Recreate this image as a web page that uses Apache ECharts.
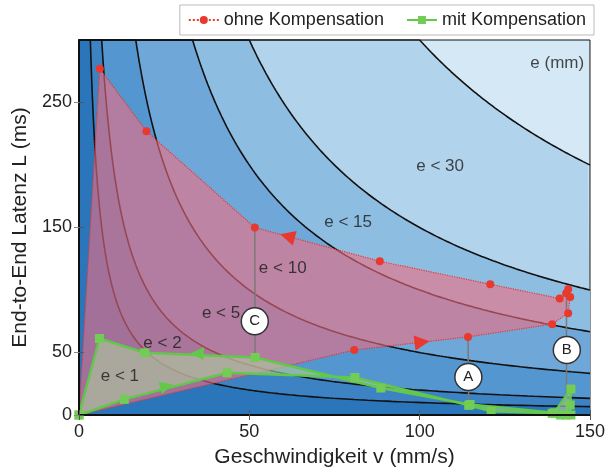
<!DOCTYPE html>
<html><head><meta charset="utf-8">
<script src="https://cdn.jsdelivr.net/npm/echarts@6/dist/echarts.min.js"></script>
<style>html,body{margin:0;padding:0;background:#fff}#c{width:608px;height:475px}</style>
</head><body><div id="c"></div><script>
// contour levels e = v*L/1000 (mm)
const levels = [30, 15, 10, 5, 2, 1];
const levelColors = ['#b2d3ec', '#8ebde2', '#6fa8d8', '#5496cf', '#3d83c4', '#2b76bb'];
const topColor = '#d4e8f6';
const xTicks = [0, 50, 100, 150];
const yTicks = [0, 50, 150, 250];

// ohne Kompensation (closed loop)
const redV = [0, 80.8, 114.2, 138.9, 143.6, 144.2, 143.6, 143.0, 141.1, 120.7, 88.3, 51.6, 19.8, 6.1, 0];
const redL = [0, 52, 62.5, 72.7, 81.5, 94.5, 100.6, 97.4, 93.2, 104.6, 123, 150, 227, 277, 0];

// mit Kompensation (closed loop)
const greenV = [0, 13.3, 43.5, 81, 114.4, 121, 138.9, 141.3, 143, 144.4, 144.2, 144.4, 139.5, 114.8, 88.6, 51.7, 19.3, 6, 0];
const greenL = [0, 12.5, 33.8, 30, 7.7, 3, 1.3, 0, 0, 0, 8, 20.8, 1.8, 8.4, 21.6, 46, 49.8, 61.2, 0];

// direction arrows
const redArrows = [[61.2, 143, 75], [100.7, 58.3, -83]];
const greenArrows = [[25.7, 23, -75], [34.7, 49.3, 87]];

// callouts
const calloutNames = ['A', 'B', 'C'];
const calloutPos = [[114.3, 30.4], [143.2, 52], [51.6, 75]];
const calloutLines = [[[114.2, 62.5], [114.4, 7.7]], [[143.1, 100], [143.1, 0]], [[51.6, 150], [51.7, 46]]];

// region labels
const regionLabels = ['e < 30', 'e < 15', 'e < 10', 'e < 5', 'e < 2', 'e < 1', 'e (mm)'];
const regionLabelPos = [[106, 199], [79, 154], [59.8, 117], [41.7, 81.5], [24.5, 57.5], [12, 31], [140.4, 281]];

const XMAX = 150, YMAX = 300;
const font = 'Liberation Sans, Arial, sans-serif';

function contourPts(e) {
  const v0 = 1000 * e / YMAX;
  const pts = [[0, YMAX], [v0, YMAX]];
  const N = 240;
  for (let i = 1; i <= N; i++) {
    const v = v0 * Math.pow(XMAX / v0, i / N);
    pts.push([v, 1000 * e / v]);
  }
  return pts;
}

const series = [];
levels.forEach((e, i) => {
  series.push({
    type: 'line', name: 'e' + e, data: contourPts(e), showSymbol: false, silent: true,
    lineStyle: { color: '#111', width: 1.6 }, areaStyle: { color: levelColors[i], opacity: 1 },
    z: 1, animation: false
  });
});

function polyRender(vs, ls, fill) {
  return function (params, api) {
    return { type: 'polygon', shape: { points: vs.map((v, i) => api.coord([v, ls[i]])) }, style: { fill: fill } };
  };
}

series.push({ type: 'custom', name: 'redFill', renderItem: polyRender(redV, redL, 'rgba(242,108,128,0.6)'), data: [[0, 0]], z: 2, silent: true, animation: false });
series.push({
  type: 'line', name: 'ohne Kompensation', data: redV.map((v, i) => [v, redL[i]]),
  symbol: 'circle', symbolSize: 8, showAllSymbol: true,
  lineStyle: { color: '#e8392f', width: 1.2, type: 'dotted' }, itemStyle: { color: '#e8392f' }, z: 3, animation: false
});
calloutLines.forEach((ln, i) => {
  series.push({ type: 'line', name: 'cl' + i, data: ln, showSymbol: false, lineStyle: { color: '#7a7a7a', width: 1.5 }, z: 3, silent: true, animation: false });
});
series.push({ type: 'custom', name: 'greenFill', renderItem: polyRender(greenV, greenL, 'rgba(175,200,160,0.64)'), data: [[0, 0]], z: 4, silent: true, animation: false });
series.push({
  type: 'line', name: 'mit Kompensation', data: greenV.map((v, i) => [v, greenL[i]]),
  symbol: 'rect', symbolSize: 9, showAllSymbol: true,
  lineStyle: { color: '#62c84a', width: 2.5 }, itemStyle: { color: '#72cc55' }, z: 5, animation: false
});
series.push({
  type: 'scatter', name: 'redArrows', symbol: 'triangle', symbolSize: [15, 15],
  data: redArrows.map(a => ({ value: [a[0], a[1]], symbolRotate: a[2] })), itemStyle: { color: '#e8392f', opacity: 1 }, z: 6, silent: true, animation: false
});
series.push({
  type: 'scatter', name: 'greenArrows', symbol: 'triangle', symbolSize: [13, 13],
  data: greenArrows.map(a => ({ value: [a[0], a[1]], symbolRotate: a[2] })), itemStyle: { color: '#62c84a', opacity: 1 }, z: 6, silent: true, animation: false
});
series.push({
  type: 'scatter', name: 'callouts', symbol: 'circle', symbolSize: 27,
  data: calloutPos.map((p, i) => ({ value: p, name: calloutNames[i] })),
  itemStyle: { color: '#fff', borderColor: '#333', borderWidth: 1.5, opacity: 1 },
  label: { show: true, position: 'inside', formatter: '{b}', fontSize: 15, color: '#222', fontFamily: font },
  z: 7, silent: true, animation: false
});
series.push({
  type: 'scatter', name: 'regionLabels', symbol: 'circle', symbolSize: 1,
  data: regionLabelPos.map((p, i) => ({ value: p, name: regionLabels[i] })),
  itemStyle: { color: 'rgba(0,0,0,0)' },
  label: { show: true, position: 'inside', formatter: '{b}', fontSize: 17, color: '#1a1a1a', fontFamily: font },
  z: 7, silent: true, animation: false
});

const axisCommon = { axisLine: { show: true, lineStyle: { color: '#111', width: 2 } }, z: 10 };
const option = {
  animation: false,
  grid: { left: 79, right: 15, top: 40, bottom: 60, show: true, backgroundColor: topColor, borderColor: '#111', borderWidth: 1 },
  legend: {
    data: [{ name: 'ohne Kompensation' }, { name: 'mit Kompensation' }],
    right: 14, top: 5, itemWidth: 30, itemHeight: 10, itemGap: 22,
    padding: [6, 8, 6, 8], borderColor: '#bbb', borderWidth: 1, backgroundColor: '#fff',
    textStyle: { fontSize: 18, color: '#222', fontFamily: font }
  },
  xAxis: [{
    type: 'value', min: 0, max: XMAX, interval: 50, position: 'bottom',
    name: 'Geschwindigkeit v (mm/s)', nameLocation: 'middle', nameGap: 32,
    nameTextStyle: { fontSize: 21, color: '#222', fontFamily: font },
    axisLabel: { fontSize: 18, color: '#222', fontFamily: font, margin: 8, customValues: xTicks },
    axisTick: { show: true, inside: true, length: 5, lineStyle: { color: '#555' }, customValues: xTicks },
    splitLine: { show: false }, ...axisCommon
  }, {
    type: 'value', min: 0, max: XMAX, interval: 50, position: 'top',
    axisLabel: { show: false }, axisTick: { show: true, inside: true, length: 5, lineStyle: { color: '#555' }, customValues: xTicks },
    splitLine: { show: false }, ...axisCommon, axisLine: { show: true, lineStyle: { color: '#111', width: 1.5 } }
  }],
  yAxis: [{
    type: 'value', min: 0, max: YMAX, interval: 50, position: 'left',
    name: 'End-to-End Latenz L (ms)', nameLocation: 'middle', nameGap: 42,
    nameTextStyle: { fontSize: 21, color: '#222', fontFamily: font },
    axisLabel: { fontSize: 18, color: '#222', fontFamily: font, margin: 7, customValues: yTicks },
    axisTick: { show: true, inside: true, length: 5, lineStyle: { color: '#555' }, customValues: yTicks },
    splitLine: { show: false }, ...axisCommon
  }, {
    type: 'value', min: 0, max: YMAX, interval: 50, position: 'right',
    axisLabel: { show: false }, axisTick: { show: true, inside: true, length: 5, lineStyle: { color: '#888' }, customValues: yTicks },
    splitLine: { show: false }, ...axisCommon, axisLine: { show: true, lineStyle: { color: '#111', width: 1.5 } }
  }],
  series: series
};
const chart = echarts.init(document.getElementById('c'), null, { renderer: 'canvas' });
chart.setOption(option);
</script></body></html>
